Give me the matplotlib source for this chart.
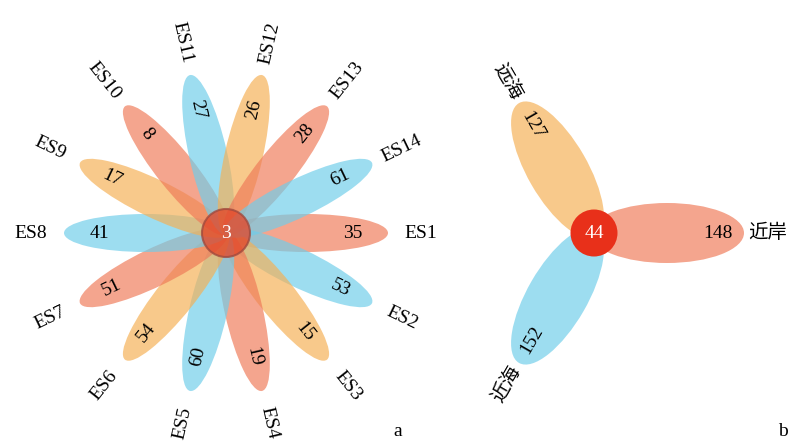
import numpy as np
import matplotlib.pyplot as plt
from matplotlib.patches import Ellipse, Circle

plt.rcParams['font.family'] = ['Liberation Serif', 'Noto Sans CJK SC']

# panel a: unique OTUs per sample, shared core in the middle
es_labels = ['ES1', 'ES2', 'ES3', 'ES4', 'ES5', 'ES6', 'ES7',
             'ES8', 'ES9', 'ES10', 'ES11', 'ES12', 'ES13', 'ES14']
es_counts = [35, 53, 15, 19, 60, 54, 51, 41, 17, 8, 27, 26, 28, 61]
es_core = 3

# panel b: unique per zone, shared core
zone_labels = ['近岸', '远海', '近海']
zone_counts = [148, 127, 152]
zone_angles = [0, 120, 240]
zone_core = 44

salmon = '#EF7A58'
blue = '#6FCDEA'
orange = '#F5B055'
cycle = [salmon, blue, orange]

fig = plt.figure(figsize=(7.89, 4.43), dpi=100)
ax = fig.add_axes([0, 0, 1, 1])
ax.set_xlim(0, 789)
ax.set_ylim(0, 443)
ax.set_aspect('equal')
ax.axis('off')


def text_rot(deg):
    deg = (deg + 180) % 360 - 180
    if deg > 90:
        return deg - 180
    if deg <= -90:
        return deg + 180
    return deg


def flower(cx, cy, labels, counts, angles, colors, length, width, start,
           r_num, r_lab, alpha, fs_num, fs_lab):
    for lab, n, ang, col in zip(labels, counts, angles, colors):
        t = np.deg2rad(ang)
        mid = start + length / 2
        ax.add_patch(Ellipse((cx + mid * np.cos(t), cy + mid * np.sin(t)),
                             length, width, angle=ang, facecolor=col,
                             edgecolor='none', alpha=alpha, zorder=2))
        rot = text_rot(ang)
        ax.text(cx + r_num * np.cos(t), cy + r_num * np.sin(t), str(n),
                rotation=rot, rotation_mode='anchor', ha='center',
                va='center', fontsize=fs_num, zorder=4)
        ax.text(cx + r_lab * np.cos(t), cy + r_lab * np.sin(t), lab,
                rotation=rot, rotation_mode='anchor', ha='center',
                va='center', fontsize=fs_lab, zorder=4)


# panel a
ax_c = (226, 210)
es_angles = [-360 / len(es_labels) * i for i in range(len(es_labels))]
es_colors = [cycle[i % 3] for i in range(len(es_labels))]
flower(*ax_c, es_labels, es_counts, es_angles, es_colors,
       length=164, width=38, start=-2, r_num=127, r_lab=195,
       alpha=0.68, fs_num=14, fs_lab=14)
ax.add_patch(Circle(ax_c, 24, facecolor='#E24A2C', edgecolor='#A04A3E',
                    lw=1.5, alpha=0.8, zorder=3))
ax.text(*ax_c, str(es_core), color='white', ha='center', va='center',
        fontsize=14, zorder=4)

# panel b
bx_c = (594, 210)
flower(*bx_c, zone_labels, zone_counts, zone_angles, [salmon, orange, blue],
       length=154, width=60, start=-4, r_num=124, r_lab=174,
       alpha=0.68, fs_num=14, fs_lab=14)
ax.add_patch(Circle(bx_c, 23.5, facecolor='#E8301A', edgecolor='none',
                    zorder=3))
ax.text(*bx_c, str(zone_core), color='white', ha='center', va='center',
        fontsize=14, zorder=4)

ax.text(398, 11, 'a', ha='center', va='center', fontsize=14)
ax.text(783, 11, 'b', ha='center', va='center', fontsize=14)

fig.savefig('out.png', dpi=100)
